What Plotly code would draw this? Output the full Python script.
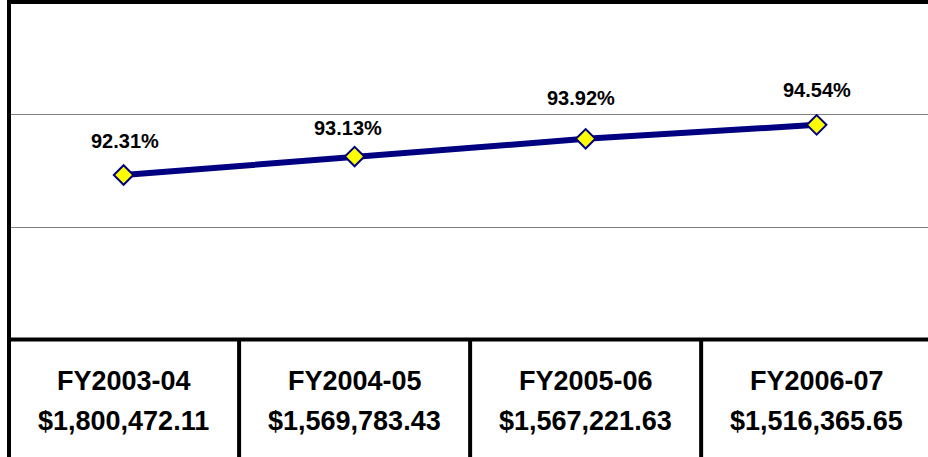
import plotly.graph_objects as go

# ---- data ----
fiscal_years = ["FY2003-04", "FY2004-05", "FY2005-06", "FY2006-07"]
rates = [92.31, 93.13, 93.92, 94.54]
amounts = ["$1,800,472.11", "$1,569,783.43", "$1,567,221.63", "$1,516,365.65"]

# label offsets (style, pixels)
label_dx = [1, -7, -5, 0]
label_dy = [34, 29, 41, 35]

W, H = 928, 457
plot_bottom_px = 339
dom0 = (H - plot_bottom_px) / H

x_idx = list(range(len(fiscal_years)))

fig = go.Figure()
fig.add_trace(go.Scatter(
    x=x_idx, y=rates, mode="lines+markers",
    line=dict(color="#000080", width=6),
    marker=dict(symbol="diamond", size=15, color="#FFFF00",
                line=dict(color="#000080", width=2)),
    hoverinfo="skip", showlegend=False, cliponaxis=False,
))

annotations = []
for i, (r, dx, dy) in enumerate(zip(rates, label_dx, label_dy)):
    annotations.append(dict(
        x=i, y=r, xref="x", yref="y", text=f"<b>{r:.2f}%</b>", showarrow=False,
        xshift=dx, yshift=dy, xanchor="center", yanchor="middle",
        font=dict(family="Liberation Sans, Arial", size=20, color="black"),
    ))
for i, (fy, amt) in enumerate(zip(fiscal_years, amounts)):
    annotations.append(dict(
        x=i, y=(H - 381) / H, xref="x", yref="paper", text=f"<b>{fy}</b>",
        showarrow=False, xanchor="center", yanchor="middle",
        font=dict(family="Liberation Sans, Arial", size=27, color="black"),
    ))
    annotations.append(dict(
        x=i, y=(H - 421) / H, xref="x", yref="paper", text=f"<b>{amt}</b>",
        showarrow=False, xanchor="center", yanchor="middle",
        font=dict(family="Liberation Sans, Arial", size=27, color="black"),
    ))

shapes = []
blk = dict(color="black", width=4)
# left border (full height)
shapes.append(dict(type="line", xref="paper", yref="paper", x0=0, x1=0, y0=-0.01, y1=1.01, line=blk, layer="above"))
# top border
shapes.append(dict(type="line", xref="paper", yref="paper", x0=0, x1=1.01, y0=1, y1=1, line=blk, layer="above"))
# bottom of plot / top of table
shapes.append(dict(type="line", xref="paper", yref="paper", x0=0, x1=1.01, y0=dom0, y1=dom0, line=blk, layer="above"))
# column dividers
for xb in [0.5, 1.5, 2.5]:
    shapes.append(dict(type="line", xref="x", yref="paper", x0=xb, x1=xb, y0=-0.01, y1=dom0, line=blk, layer="above"))

fig.update_layout(
    width=W, height=H,
    margin=dict(l=9, r=0, t=2, b=0),
    paper_bgcolor="white", plot_bgcolor="white",
    xaxis=dict(range=[-0.496, 3.482], showgrid=False, zeroline=False,
               showticklabels=False, ticks="", showline=False, fixedrange=True),
    yaxis=dict(range=[85, 100], domain=[dom0, 1], tickvals=[90, 95],
               showgrid=True, gridcolor="#808080", gridwidth=1,
               zeroline=False, showticklabels=False, ticks="", showline=False, fixedrange=True),
    annotations=annotations, shapes=shapes,
)

fig.write_html("out.html", config={"displayModeBar": False},
               post_script="document.body.style.margin='0';document.body.style.padding='0';")
